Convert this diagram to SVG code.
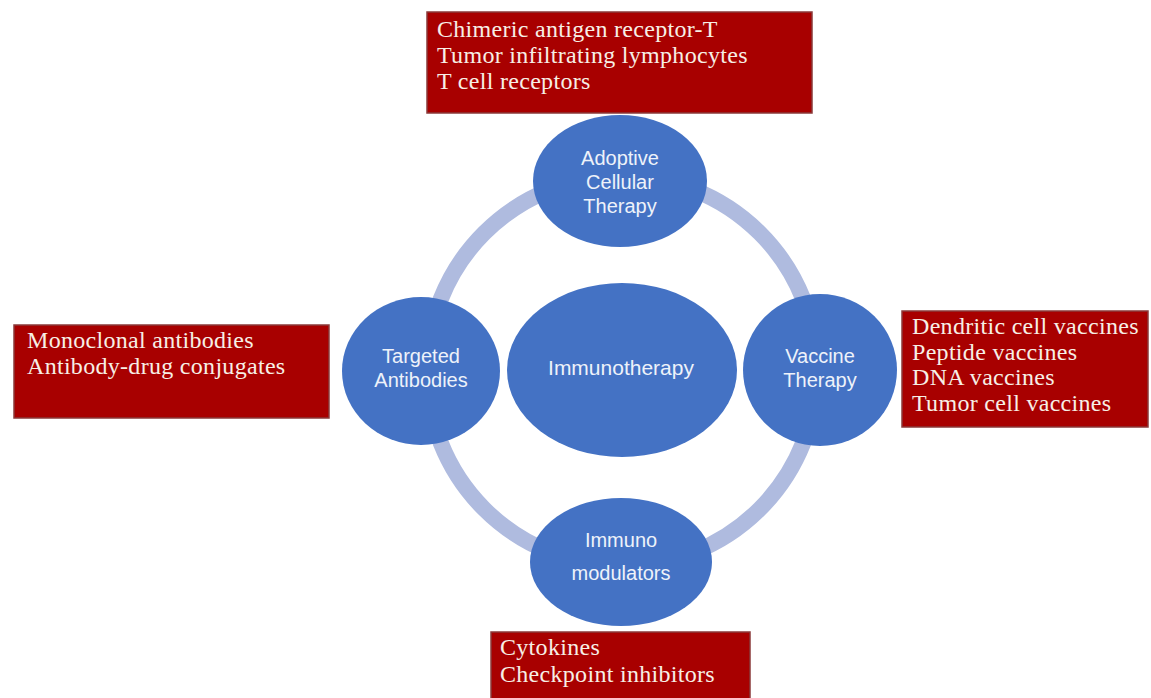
<svg xmlns="http://www.w3.org/2000/svg" width="1151" height="698" viewBox="0 0 1151 698">
<style>
.box{fill:#a80000;stroke:#8a3a3a;stroke-width:1.5}
.bt{font-family:"Liberation Serif","Times New Roman",serif;font-size:24px;letter-spacing:0.3px;fill:#f7efe6}
.node{fill:#4472c4}
.nt{font-family:"Liberation Sans",Arial,sans-serif;font-size:20px;fill:#eef2fa;text-anchor:middle}
.ring{fill:none;stroke:#afbbdf;stroke-width:16}
</style>
<rect width="1151" height="698" fill="#ffffff"/>
<g id="connectors">
<circle class="ring" cx="622" cy="371" r="195"/>
</g>
<g id="node-adoptive">
<ellipse class="node" cx="620" cy="181" rx="87" ry="66"/>
<text class="nt" x="620" y="165">Adoptive</text>
<text class="nt" x="620" y="189">Cellular</text>
<text class="nt" x="620" y="213">Therapy</text>
</g>
<g id="node-targeted">
<ellipse class="node" cx="421" cy="371" rx="79" ry="74"/>
<text class="nt" x="421" y="363">Targeted</text>
<text class="nt" x="421" y="387">Antibodies</text>
</g>
<g id="node-center">
<ellipse class="node" cx="622" cy="370" rx="115" ry="87"/>
<text class="nt" x="621" y="375" style="font-size:21px">Immunotherapy</text>
</g>
<g id="node-vaccine">
<ellipse class="node" cx="820" cy="370" rx="77" ry="76"/>
<text class="nt" x="820" y="363">Vaccine</text>
<text class="nt" x="820" y="387">Therapy</text>
</g>
<g id="node-immuno">
<ellipse class="node" cx="621" cy="562" rx="91" ry="64"/>
<text class="nt" x="621" y="547">Immuno</text>
<text class="nt" x="621" y="580">modulators</text>
</g>
<g id="box-top">
<rect class="box" x="427" y="12" width="385" height="101"/>
<text class="bt" x="437" y="37">Chimeric antigen receptor-T</text>
<text class="bt" x="437" y="63">Tumor infiltrating lymphocytes</text>
<text class="bt" x="437" y="89">T cell receptors</text>
</g>
<g id="box-left">
<rect class="box" x="14" y="325" width="315" height="93"/>
<text class="bt" x="27" y="348">Monoclonal antibodies</text>
<text class="bt" x="27" y="374">Antibody-drug conjugates</text>
</g>
<g id="box-right">
<rect class="box" x="902" y="311" width="246" height="116"/>
<text class="bt" x="912" y="334">Dendritic cell vaccines</text>
<text class="bt" x="912" y="360">Peptide vaccines</text>
<text class="bt" x="912" y="385">DNA vaccines</text>
<text class="bt" x="912" y="411">Tumor cell vaccines</text>
</g>
<g id="box-bottom">
<rect class="box" x="491" y="632" width="259" height="70"/>
<text class="bt" x="500" y="655">Cytokines</text>
<text class="bt" x="500" y="682">Checkpoint  inhibitors</text>
</g>
</svg>
